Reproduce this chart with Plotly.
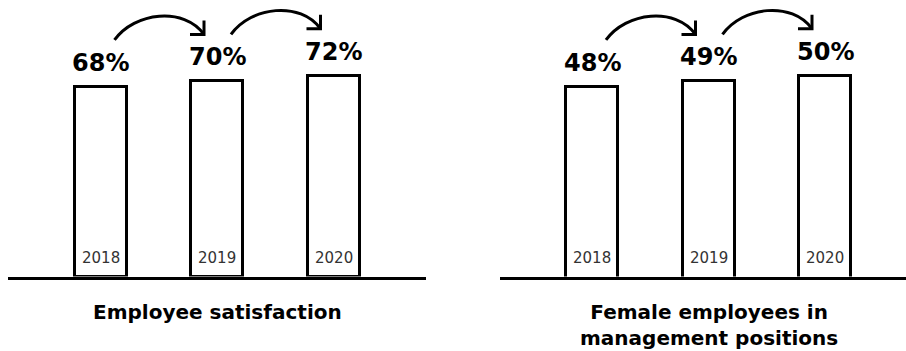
import plotly.graph_objects as go

# Data
years = ["2018", "2019", "2020"]
satisfaction = [68, 70, 72]
female_mgmt = [48, 49, 50]
value_labels_left = ["68%", "70%", "72%"]
value_labels_right = ["48%", "49%", "50%"]
titles = ["Employee satisfaction", "Female employees in<br>management positions"]

W, H = 906, 351
FONT = "DejaVu Sans"
INK = "black"

# Layout geometry (pixels)
step = 116.5          # distance between bar centres
bottom_px = 276.5     # baseline of both panels
bar_w = 52 / step     # bar width in category units (stroke adds the rest)
panels = [
    # left px, right px, centre px, px per unit, value at baseline
    dict(l=8, r=426, c=217, k=2.787, v0=0),
    dict(l=500, r=906, c=708.5, k=5.574, v0=14),
]
series = [satisfaction, female_mgmt]
labels = [value_labels_left, value_labels_right]

xs = list(range(len(years)))

fig = go.Figure()
ydom = [(H - bottom_px) / H, 1]

for i, (p, vals) in enumerate(zip(panels, series)):
    ax = "" if i == 0 else str(i + 1)
    fig.add_trace(go.Bar(
        x=xs, y=vals, width=bar_w,
        marker=dict(color="white", line=dict(color=INK, width=3)),
        xaxis="x" + ax, yaxis="y" + ax, hoverinfo="skip", showlegend=False,
    ))
    xr = [1 - (p["c"] - p["l"]) / step, 1 + (p["r"] - p["c"]) / step]
    yr = [p["v0"], p["v0"] + bottom_px / p["k"]]
    fig.update_layout(**{
        "xaxis" + ax: dict(domain=[p["l"] / W, p["r"] / W], range=xr,
                           showgrid=False, zeroline=False, showticklabels=False,
                           ticks="", showline=True, linecolor=INK, linewidth=3,
                           fixedrange=True),
        "yaxis" + ax: dict(domain=ydom, range=yr, visible=False, fixedrange=True,
                           anchor="x" + ax),
    })
    fig.layout["xaxis" + ax].anchor = "y" + ax

    # value labels above bars, year labels inside bars
    for xi, v, t, yr_lbl in zip(xs, vals, labels[i], years):
        fig.add_annotation(x=xi, y=v, xref="x" + ax, yref="y" + ax, text=t,
                           showarrow=False, yanchor="bottom", yshift=8,
                           font=dict(family=FONT, size=24, color=INK, weight="bold"))
        fig.add_annotation(x=xi, y=0, xref="x" + ax, yref="y" + ax + " domain",
                           text=yr_lbl, showarrow=False, yanchor="bottom", yshift=8,
                           font=dict(family=FONT, size=15, color="#333333"))

    # panel title
    fig.add_annotation(x=1, y=(H - 298) / H, xref="x" + ax, yref="paper",
                       text=titles[i], showarrow=False, yanchor="top",
                       font=dict(family=FONT, size=20, color=INK, weight="bold"))

    # curved arrows between consecutive bars
    def to_px(xi, v, p=p):
        x = p["c"] + (xi - 1) * step
        y = bottom_px - (v - p["v0"]) * p["k"]
        return x, y

    def paper(x, y):
        return f"{x / W:.5f},{1 - y / H:.5f}"

    for j in range(len(vals) - 1):
        sx, sy = to_px(xs[j], vals[j])
        ex, ey = to_px(xs[j + 1], vals[j + 1])
        sx, sy = sx + 14, sy - 47
        ex, ey = ex - 13, ey - 47
        arc = (f"M {paper(sx, sy)} C {paper(sx + 20, sy - 28)} "
               f"{paper(ex - 20, ey - 28)} {paper(ex, ey)}")
        head = f"M {paper(ex - 14, ey)} L {paper(ex, ey)} L {paper(ex, ey - 14)}"
        for path in (arc, head):
            fig.add_shape(type="path", path=path, xref="paper", yref="paper",
                          line=dict(color=INK, width=3))

fig.update_layout(
    width=W, height=H, margin=dict(l=0, r=0, t=0, b=0),
    paper_bgcolor="white", plot_bgcolor="white",
    showlegend=False, bargap=0,
)

fig.write_html("out.html", config={"displayModeBar": False})
